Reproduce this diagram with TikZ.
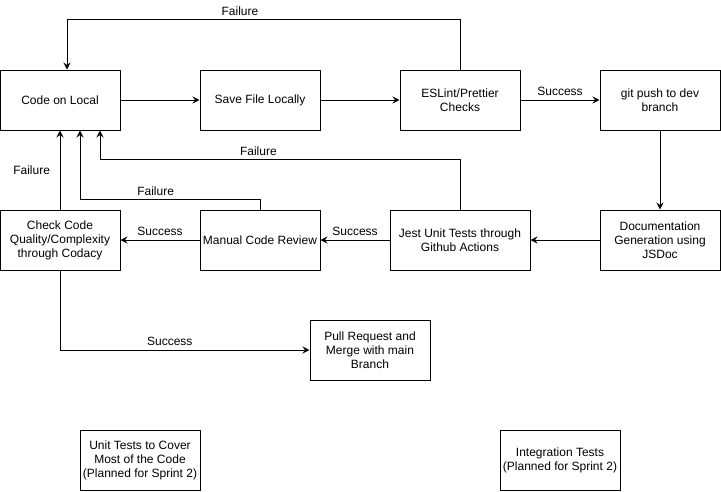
\documentclass[tikz,border=0pt]{standalone}
\usepackage{fontspec}
\setmainfont{Liberation Sans}
\usetikzlibrary{shapes, arrows.meta, positioning}
\tikzset{
  process/.style={rectangle, draw=black, line width=1pt, text centered, align=center, inner sep=0, minimum width=120pt, minimum height=60pt, font=\fontsize{12}{14}\selectfont},
  lbl/.style={font=\fontsize{12}{14}\selectfont, inner sep=3.5pt},
  >={Stealth[length=7pt, width=7pt, inset=2.5pt]}
}

\begin{document}
\begin{tikzpicture}[x=1pt, y=-1pt, line width=1pt]
      \useasboundingbox (0, 0) rectangle (721, 491);
      \node[process](m1) at (60, 100){Code on Local};
      \node[process](m2) at (260, 100){Save File Locally};
      \node[process](m3) at (460, 100){ESLint/Prettier\\Checks};
      \node[process](m4) at (660, 100){git push to dev\\branch};
      \node[process](m5) at (60, 240){Check Code\\Quality/Complexity\\through Codacy};
      \node[process](m6) at (260, 240){Manual Code Review};
      \node[process, minimum width=140pt](m7) at (460, 240){Jest Unit Tests through\\Github Actions};
      \node[process](m8) at (660, 240){Documentation\\Generation using\\JSDoc};
      \node[process](m9) at (370, 350){Pull Request and\\Merge with main\\Branch};
      \node[process](m10) at (140, 460){Unit Tests to Cover\\Most of the Code\\(Planned for Sprint 2)};
      \node[process](m11) at (560, 460){Integration Tests\\(Planned for Sprint 2)};

      \draw[->](m1)--(m2);
      \draw[->](m2)--(m3);
      \draw[->](m3)--node[lbl, above]{Success}(m4);
      \draw[->](m4)--(m8);
      \draw[->](m8)--(m7);
      \draw[->](m7)--node[lbl, above]{Success}(m6);
      \draw[->](m6)--node[lbl, above]{Success}(m5);
      \draw[->](m5)--node[lbl, left, xshift=-6pt]{Failure}(m1);
      \draw[->](m6.north)--++(0, -10) -| node[lbl, above, pos=0.29]{Failure}([xshift=20pt]m1.south);
      \draw[->](m7.north)--++(0, -50) -| node[lbl, above, pos=0.28]{Failure}([xshift=40pt]m1.south);
      \draw[->](m3.north)--++(0, -50) -| node[lbl, above, pos=0.28]{Failure}([xshift=7pt]m1.north);
      \draw[->](m5.south) |- node[lbl, above, pos=0.72]{Success}(m9.west);
    \end{tikzpicture}
\end{document}
